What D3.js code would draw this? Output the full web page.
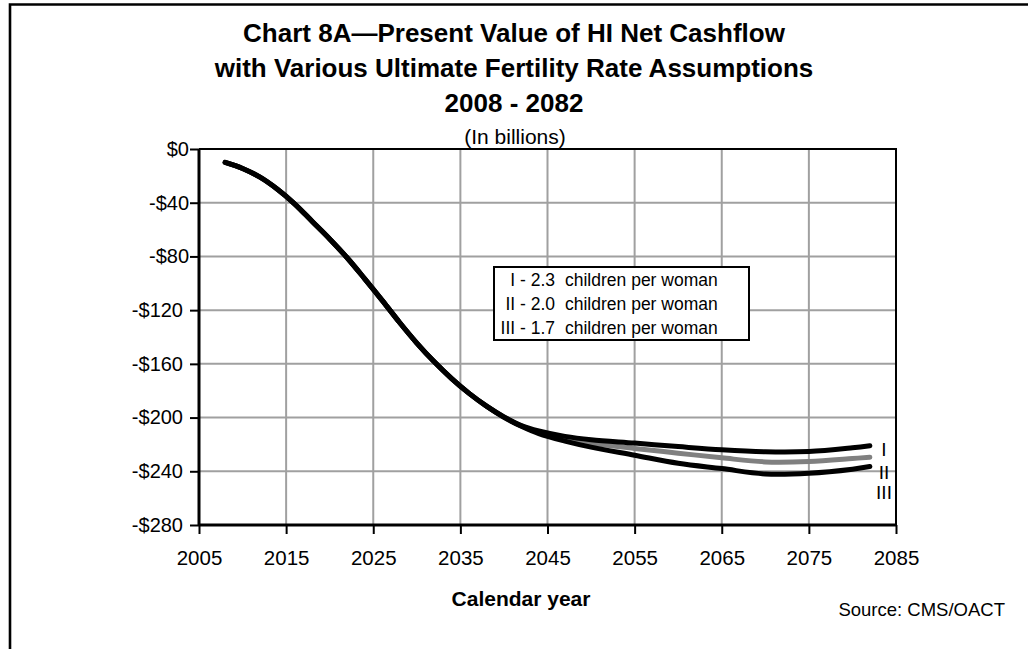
<!DOCTYPE html>
<html>
<head>
<meta charset="utf-8">
<script src="https://cdn.jsdelivr.net/npm/d3@7"></script>
<style>
  html, body { margin: 0; padding: 0; background: #fff; }
  svg { display: block; font-family: "Liberation Sans", Arial, sans-serif; }
</style>
</head>
<body>
<svg id="chart" width="1028" height="649"></svg>
<script>
// Years shared by every series
const years = [2008, 2010, 2012, 2014, 2016, 2018, 2020, 2022, 2024, 2026, 2028, 2030, 2032, 2034, 2036, 2038,
               2040, 2042, 2044, 2047, 2050, 2055, 2060, 2065, 2070, 2075, 2080, 2082];

// Present value of HI net cashflow, billions of dollars
const seriesI   = [-10, -14.5, -21, -30, -41, -54, -67, -81, -96.5, -112.5, -129, -144.5, -158.5, -171, -182, -191.5,
                   -199.5, -206, -210, -214, -216.5, -219, -221.6, -224, -225.5, -225.3, -222.5, -221];
const seriesII  = [-10, -14.5, -21, -30, -41, -54, -67, -81, -96.5, -112.5, -129, -144.5, -158.5, -171, -182, -191.5,
                   -199.5, -206.2, -211, -215.5, -219, -223, -226.5, -230, -233, -232.7, -230.5, -229.5];
const seriesIII = [-10, -14.5, -21, -30, -41, -54, -67, -81, -96.5, -112.5, -129, -144.5, -158.5, -171, -182, -191.5,
                   -199.8, -206.5, -212, -217.5, -222, -228, -234, -238, -242, -241.5, -238.5, -236.5];

const seriesNames = ["I", "II", "III"];
const legendRates = ["2.3", "2.0", "1.7"];
const xTicks = [2005, 2015, 2025, 2035, 2045, 2055, 2065, 2075, 2085];
const yTicks = [0, -40, -80, -120, -160, -200, -240, -280];
const titleLines = [
  "Chart 8A\u2014Present Value of HI Net Cashflow",
  "with Various Ultimate Fertility Rate Assumptions",
  "2008 - 2082"
];

const svg = d3.select("#chart");
const plot = { left: 199, right: 896, top: 149, bottom: 525 };

const x = d3.scaleLinear().domain([2005, 2085]).range([plot.left, plot.right]);
const y = d3.scaleLinear().domain([-280, 0]).range([plot.bottom, plot.top]);

// Outer frame (top and left edges)
svg.append("path")
  .attr("d", "M10,649 V4.5 H1028")
  .attr("fill", "none").attr("stroke", "#000").attr("stroke-width", 2.6);

// Titles
const title = svg.append("g").attr("text-anchor", "middle").attr("font-weight", "bold").attr("font-size", 26);
titleLines.forEach((t, i) => {
  title.append("text").attr("x", 514).attr("y", 42 + i * 35).text(t);
});
svg.append("text").attr("x", 515).attr("y", 144).attr("text-anchor", "middle")
  .attr("font-size", 21).text("(In billions)");

// Gridlines
const grid = svg.append("g").attr("stroke", "#a0a0a0").attr("stroke-width", 2);
grid.selectAll("line.v").data(xTicks.slice(1, -1)).join("line")
  .attr("x1", d => x(d)).attr("x2", d => x(d)).attr("y1", plot.top).attr("y2", plot.bottom);
grid.selectAll("line.h").data(yTicks.slice(1, -1)).join("line")
  .attr("x1", plot.left).attr("x2", plot.right).attr("y1", d => y(d)).attr("y2", d => y(d));

// Plot frame: top and right edges
svg.append("path")
  .attr("d", `M${plot.left},${plot.top} H${plot.right} V${plot.bottom}`)
  .attr("fill", "none").attr("stroke", "#000").attr("stroke-width", 2);

// Axes
const fmt = v => (v < 0 ? "-$" : "$") + Math.abs(v);
const yAxis = svg.append("g").attr("transform", `translate(${plot.left},0)`)
  .call(d3.axisLeft(y).tickValues(yTicks).tickFormat(fmt).tickSize(9).tickPadding(1));
const xAxis = svg.append("g").attr("transform", `translate(0,${plot.bottom})`)
  .call(d3.axisBottom(x).tickValues(xTicks).tickFormat(d3.format("d")).tickSize(9).tickPadding(16));
[yAxis, xAxis].forEach(a => {
  a.select(".domain").attr("stroke", "#000").attr("stroke-width", 3);
  a.selectAll(".tick line").attr("stroke", "#000").attr("stroke-width", 2);
  a.selectAll(".tick text").attr("fill", "#000")
    .attr("font-family", "Liberation Sans, Arial, sans-serif");
});
yAxis.selectAll(".tick text").attr("font-size", 20)
  .attr("dx", d => (Math.abs(d) >= 100 ? -6 : 0));
xAxis.selectAll(".tick text").attr("font-size", 20.5);
yAxis.select(".domain").attr("d", `M0,${plot.top}V${plot.bottom}`);
xAxis.select(".domain").attr("d", `M${plot.left},0H${plot.right}`);

// Series lines (gray drawn underneath the two black lines)
const line = d3.line().x(d => x(d[0])).y(d => y(d[1])).curve(d3.curveCatmullRom.alpha(0.5));
const series = [
  { name: "II", values: seriesII, color: "#808080" },
  { name: "I", values: seriesI, color: "#000" },
  { name: "III", values: seriesIII, color: "#000" }
];
svg.append("g").selectAll("path").data(series).join("path")
  .attr("d", s => line(years.map((yr, i) => [yr, s.values[i]])))
  .attr("fill", "none").attr("stroke", s => s.color).attr("stroke-width", 5)
  .attr("stroke-linecap", "round").attr("stroke-linejoin", "round");

// Series tags at the right end
const tagY = [456, 479, 499];
svg.append("g").attr("text-anchor", "middle").attr("font-size", 19)
  .selectAll("text").data(seriesNames).join("text")
  .attr("x", 884).attr("y", (d, i) => tagY[i]).text(d => d);

// Legend box
const lg = svg.append("g");
lg.append("rect").attr("x", 494).attr("y", 267).attr("width", 255).attr("height", 73)
  .attr("fill", "#fff").attr("stroke", "#000").attr("stroke-width", 2);
seriesNames.forEach((n, i) => {
  lg.append("text").attr("x", 555).attr("y", 286 + i * 24).attr("text-anchor", "end")
    .attr("font-size", 17.5).text(`${n} - ${legendRates[i]}`);
  lg.append("text").attr("x", 565).attr("y", 286 + i * 24)
    .attr("font-size", 17.5).text("children per woman");
});

// Axis title and source note
svg.append("text").attr("x", 521).attr("y", 606).attr("text-anchor", "middle")
  .attr("font-weight", "bold").attr("font-size", 21).text("Calendar year");
svg.append("text").attr("x", 1005).attr("y", 616).attr("text-anchor", "end")
  .attr("font-size", 18.5).text("Source: CMS/OACT");
</script>
</body>
</html>
